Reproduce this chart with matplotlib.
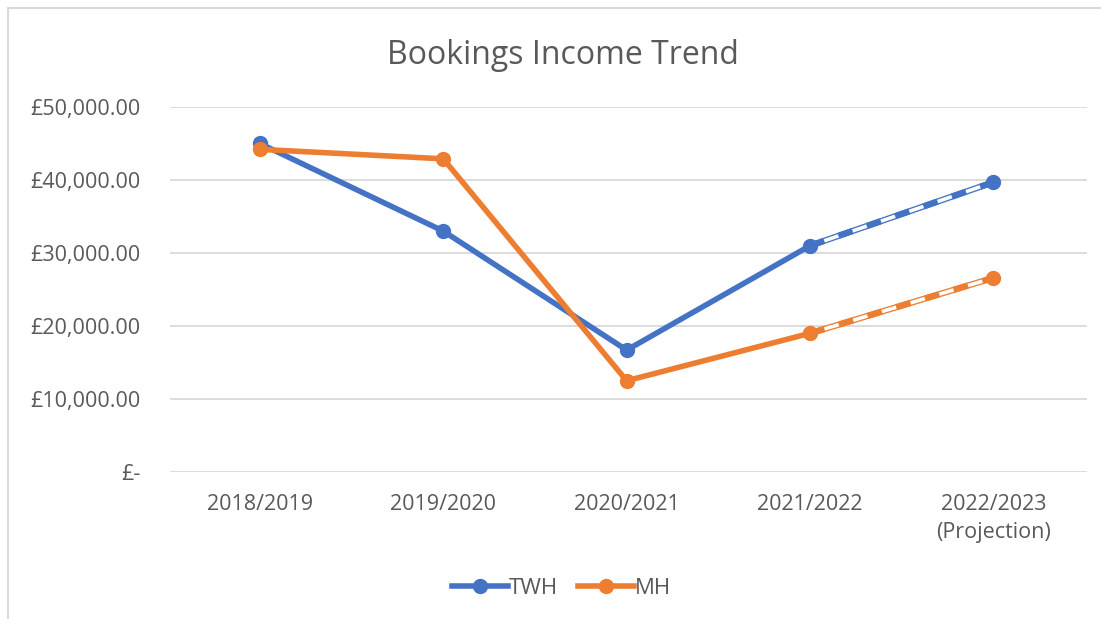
import numpy as np
import matplotlib.pyplot as plt
from matplotlib.ticker import FuncFormatter
from matplotlib.patches import Rectangle

years = ["2018/2019", "2019/2020", "2020/2021", "2021/2022", "2022/2023\n(Projection)"]
twh = [45000, 33000, 16700, 31000, 39700]
mh = [44200, 42900, 12500, 19000, 26600]

blue = "#4472C4"
orange = "#ED7D31"
grey_text = "#595959"

plt.rcParams['font.family'] = ['Open Sans', 'DejaVu Sans']

fig = plt.figure(figsize=(11.01, 6.19), dpi=100)
ax = fig.add_axes([170 / 1101, 1 - 472 / 619, (1087 - 170) / 1101, (472 - 107) / 619])

# chart frame
fig.patches.append(Rectangle((8 / 1101, -0.1), 1.2, 1 - 8 / 619 + 0.1, transform=fig.transFigure,
                             fill=False, edgecolor="#d9d9d9", linewidth=1.5))

x = np.arange(len(years))


def draw(vals, color, label):
    # actual years solid, last segment is a projection
    ax.plot(x[:-1], vals[:-1], color=color, lw=4, solid_capstyle='round', zorder=3)
    ax.plot(x[-2:], vals[-2:], color=color, lw=4.5, zorder=3)
    ax.plot(x[-2:], vals[-2:], color="white", lw=2.6, zorder=3)
    ax.plot(x[-2:], vals[-2:], color=color, lw=4.5, dashes=(2.4, 2.4), zorder=3)
    ax.plot(x, vals, 'o', color=color, ms=10, zorder=4)
    ax.plot([], [], color=color, lw=4, marker='o', ms=10, label=label)


draw(twh, blue, "TWH")
draw(mh, orange, "MH")

ax.set_xlim(-0.49, 4.51)
ax.set_ylim(0, 50000)
ax.set_yticks(np.arange(0, 50001, 10000))
ax.yaxis.set_major_formatter(FuncFormatter(lambda v, p: "£-" if v == 0 else "£{:,.2f}".format(v)))
ax.set_xticks(x)
ax.set_xticklabels(years)
for lbl in ax.get_xticklabels():
    lbl.set_linespacing(1.45)
ax.grid(axis='y', color="#d9d9d9", lw=1.3)
ax.set_axisbelow(True)
for s in ax.spines.values():
    s.set_visible(False)
ax.tick_params(axis='both', length=0, labelsize=15.5, labelcolor=grey_text)
ax.tick_params(axis='y', pad=21)
ax.tick_params(axis='x', pad=16)

fig.text(0.511, 1 - 55 / 619, "Bookings Income Trend", ha='center', va='center',
         fontsize=23, color=grey_text)

fig.legend(loc='center', bbox_to_anchor=(0.51, 1 - 588 / 619), ncol=2, frameon=False,
           fontsize=16, labelcolor=grey_text, handlelength=2.5, handletextpad=0.05,
           columnspacing=0.9)

fig.savefig("out.png", dpi=100)
